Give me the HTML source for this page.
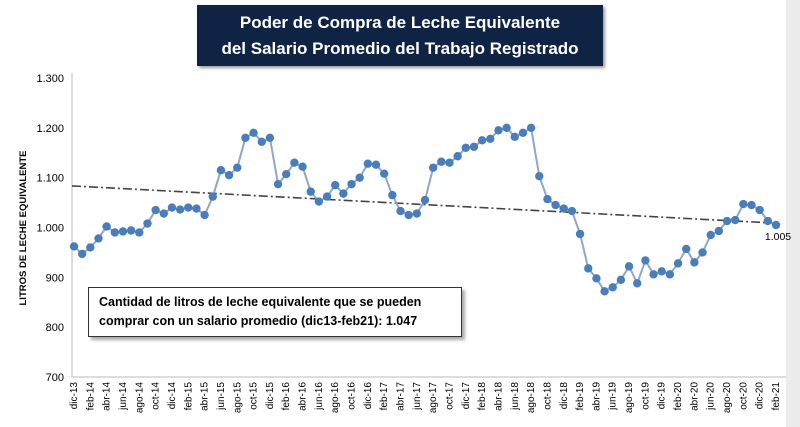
<!DOCTYPE html>
<html><head><meta charset="utf-8"><style>
body{margin:0;background:#fff;font-family:"Liberation Sans",sans-serif}
#wrap{position:relative;width:800px;height:427px;overflow:hidden;background:#fff}
#title{position:absolute;left:197px;top:5px;width:406px;height:61px;background:#0f2444;color:#fff;font-weight:bold;font-size:17px;text-align:center;line-height:26px;box-sizing:border-box;padding-top:5px;box-shadow:2px 2px 3px #999}
#note{position:absolute;left:88px;top:287px;width:374px;height:50px;border:1px solid #333;background:#fff;font-weight:bold;font-size:12.5px;line-height:19px;box-sizing:border-box;padding:5px 0 0 10px;box-shadow:3px 3px 3px #aaa}
</style></head><body>
<div id="wrap">
<svg id="svg" width="800" height="427" style="position:absolute;left:0;top:0">
<rect x="786" y="0" width="14" height="427" fill="#ececec"/>
</svg>
<div id="title">Poder de Compra de Leche Equivalente<br>del Salario Promedio del Trabajo Registrado</div>
<div id="note">Cantidad de litros de leche equivalente que se pueden<br>comprar con un salario promedio (dic13-feb21): 1.047</div>
</div>
<script>
const months=["ene","feb","mar","abr","may","jun","jul","ago","sep","oct","nov","dic"];
const values=[962,
947,960,978,1002,990,992,994,990,1008,1035,1028,1040,
1036,1040,1038,1025,1062,1115,1105,1120,1180,1190,1172,1180,
1087,1107,1130,1122,1072,1052,1062,1085,1068,1087,1100,1128,
1126,1108,1065,1033,1025,1028,1055,1120,1132,1130,1143,1160,
1162,1175,1178,1195,1200,1182,1190,1200,1103,1057,1045,1038,
1033,987,918,898,872,880,895,922,888,934,906,912,
906,928,957,930,950,985,993,1013,1015,1047,1045,1035,
1013,1005];
const yTicks=[700,800,900,1000,1100,1200,1300];
const yTickLabels=["700","800","900","1.000","1.100","1.200","1.300"];
const lastLabel="1.005";
const categories=values.map((v,i)=>{const m=(11+i)%12;const y=13+Math.floor((11+i)/12);return months[m]+"-"+y;});
const svg=document.getElementById('svg');const NS="http://www.w3.org/2000/svg";
const x0=74,x1=776,yTop=78,yBot=377;
const X=i=>x0+(x1-x0)*i/(values.length-1);
const Y=v=>yBot-(v-700)/600*(yBot-yTop);
function mk(t,a){const e=document.createElementNS(NS,t);for(const k in a)e.setAttribute(k,a[k]);svg.appendChild(e);return e;}
let e=mk('line',{x1:72,y1:yTop-5,x2:72,y2:yBot,stroke:'#bbb'});

e=mk('line',{x1:72,y1:yBot,x2:786,y2:yBot,stroke:'#bbb'});

yTicks.forEach((t,i)=>{const el=mk('text',{x:64,y:Y(t)+4,'text-anchor':'end','font-size':11,fill:'#000'});el.textContent=yTickLabels[i];
});
e=mk('text',{x:0,y:0,transform:'translate(26,228) rotate(-90)','text-anchor':'middle','font-size':9.5,'font-weight':'bold',fill:'#000'});
e.textContent="LITROS DE LECHE EQUIVALENTE";

categories.forEach((c,i)=>{if(i%2)return;const el=mk('text',{x:0,y:0,transform:`translate(${X(i)+3},382) rotate(-90)`,'text-anchor':'end','font-size':10,fill:'#000'});el.textContent=c;
});
// trend
const n=values.length;let sx=0,sy=0,sxy=0,sxx=0;values.forEach((v,i)=>{sx+=i;sy+=v;sxy+=i*v;sxx+=i*i;});
const b=(n*sxy-sx*sy)/(n*sxx-sx*sx),a=(sy-b*sx)/n;
e=mk('line',{x1:X(0)-2,y1:Y(a),x2:X(n-1),y2:Y(a+b*(n-1)),stroke:'#444','stroke-width':1.6,'stroke-dasharray':'9,3,2,3'});

e=mk('polyline',{points:values.map((v,i)=>X(i)+','+Y(v)).join(' '),fill:'none',stroke:'#8fa7c8','stroke-width':2});

values.forEach((v,i)=>{const c=mk('circle',{cx:X(i),cy:Y(v),r:4.2,fill:'#4a7ebb'});
});
e=mk('text',{x:X(n-1)+2,y:Y(values[n-1])+15,'text-anchor':'middle','font-size':10.5,fill:'#000'});e.textContent=lastLabel;

</script>
</body></html>
